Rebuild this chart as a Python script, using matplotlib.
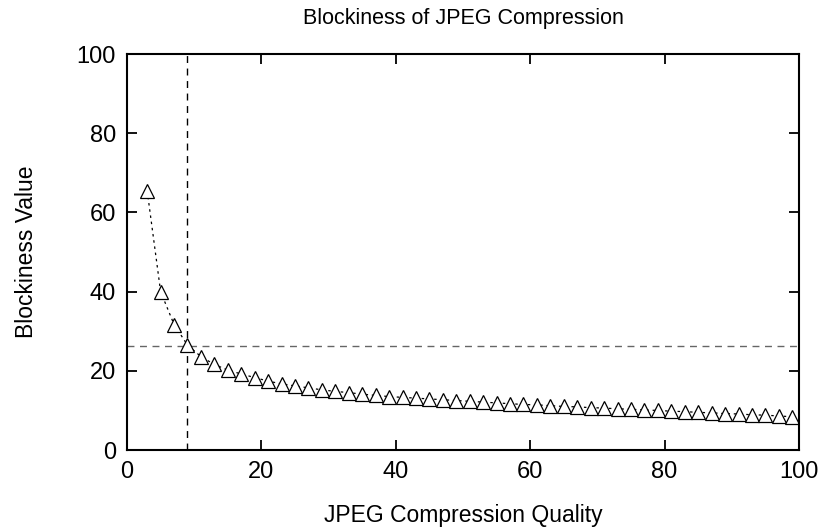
import matplotlib
matplotlib.use("Agg")
import matplotlib.pyplot as plt

plt.rcParams["font.family"] = ["Liberation Sans", "DejaVu Sans"]

quality = list(range(3, 100, 2))
blockiness = [
    65.5, 40.0, 31.7, 26.5, 23.6, 21.6, 20.2, 19.2, 18.3, 17.4,
    16.7, 16.2, 15.7, 15.2, 14.8, 14.5, 14.1, 13.8, 13.5, 13.3,
    13.1, 12.9, 12.7, 12.5, 12.3, 12.1, 11.9, 11.7, 11.5, 11.4,
    11.2, 11.0, 10.9, 10.7, 10.6, 10.4, 10.3, 10.1, 10.0, 9.8,
    9.7, 9.5, 9.4, 9.2, 9.1, 8.9, 8.8, 8.6, 8.4,
]
threshold_quality = 9
threshold_value = 26.3

fig = plt.figure(figsize=(8.28, 5.31), dpi=100)
ax = fig.add_axes([0.1534, 0.1525, 0.8116, 0.7457])

ax.plot(quality, blockiness, color="black", linestyle=(0, (2, 3)), linewidth=0.9,
        marker="^", markersize=9.5, markerfacecolor="white",
        markeredgecolor="black", markeredgewidth=0.9)

ax.axvline(threshold_quality, color="black", linestyle=(0, (5, 4)), linewidth=1.0, zorder=1)
ax.axhline(threshold_value, color="#666666", linestyle=(0, (5, 4)), linewidth=1.0, zorder=1)

ax.set_xlim(0, 100)
ax.set_ylim(0, 100)
ax.set_xticks(range(0, 101, 20))
ax.set_yticks(range(0, 101, 20))
ax.tick_params(direction="in", length=7, width=1.3, top=True, right=True,
               labelsize=17, pad=8)
for s in ax.spines.values():
    s.set_linewidth(1.5)

ax.set_title("Blockiness of JPEG Compression", fontsize=15.5, pad=22)
ax.set_xlabel("JPEG Compression Quality", fontsize=16.5, labelpad=15)
ax.set_ylabel("Blockiness Value", fontsize=16.5, labelpad=28)

fig.savefig("out.png", dpi=100)
